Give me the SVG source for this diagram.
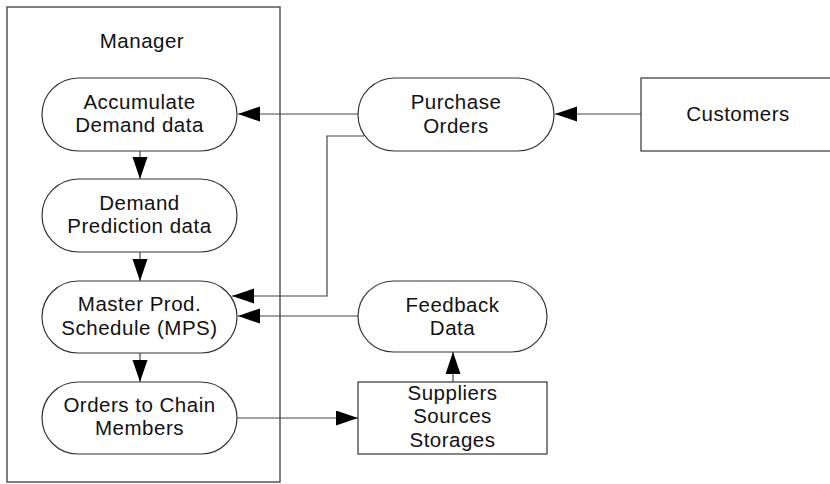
<svg xmlns="http://www.w3.org/2000/svg" width="830" height="484" viewBox="0 0 830 484">
  <style>
    .box { fill: #fff; stroke: #333; stroke-width: 1.2; }
    .frame { fill: none; stroke: #555; stroke-width: 1.5; }
    .lbl { font-family: "Liberation Sans", Arial, sans-serif; font-size: 20.5px; fill: #111; text-anchor: middle; letter-spacing: 0.5px; }
    .conn { fill: none; stroke: #444; stroke-width: 1.2; }
  </style>
  <defs>
    <marker id="arrow" markerUnits="userSpaceOnUse" markerWidth="24" markerHeight="16" refX="22" refY="7.5" orient="auto">
      <path d="M0,0 L22,7.5 L0,15 Z" fill="#000"/>
    </marker>
  </defs>
  <rect width="830" height="484" fill="#fff"/>

  <!-- Manager container -->
  <g id="manager">
    <rect class="frame" x="7" y="7" width="273" height="475"/>
    <text class="lbl" x="142" y="48">Manager</text>
  </g>

  <g id="accumulate">
    <rect class="box" x="42" y="78" width="195" height="73" rx="36.5" ry="36.5"/>
    <text class="lbl" x="139.5" y="109">Accumulate</text>
    <text class="lbl" x="139.5" y="132">Demand data</text>
  </g>

  <g id="prediction">
    <rect class="box" x="42" y="179" width="195" height="73" rx="36.5" ry="36.5"/>
    <text class="lbl" x="139.5" y="210">Demand</text>
    <text class="lbl" x="139.5" y="233">Prediction data</text>
  </g>

  <g id="mps">
    <rect class="box" x="42" y="281" width="195" height="72" rx="36" ry="36"/>
    <text class="lbl" x="139.5" y="311">Master Prod.</text>
    <text class="lbl" x="139.5" y="335">Schedule (MPS)</text>
  </g>

  <g id="orders">
    <rect class="box" x="42" y="382" width="195" height="72" rx="36" ry="36"/>
    <text class="lbl" x="139.5" y="412">Orders to Chain</text>
    <text class="lbl" x="139.5" y="435">Members</text>
  </g>

  <g id="purchase">
    <rect class="box" x="358" y="78" width="196" height="73" rx="36.5" ry="36.5"/>
    <text class="lbl" x="456" y="109">Purchase</text>
    <text class="lbl" x="456" y="133">Orders</text>
  </g>

  <g id="customers">
    <rect class="box" x="641" y="78" width="200" height="73"/>
    <text class="lbl" x="738" y="121">Customers</text>
  </g>

  <g id="feedback">
    <rect class="box" x="358" y="281" width="189" height="71" rx="35.5" ry="35.5"/>
    <text class="lbl" x="452.5" y="312">Feedback</text>
    <text class="lbl" x="452.5" y="335">Data</text>
  </g>

  <g id="suppliers">
    <rect class="box" x="358" y="382" width="189" height="72"/>
    <text class="lbl" x="452.5" y="400">Suppliers</text>
    <text class="lbl" x="452.5" y="423">Sources</text>
    <text class="lbl" x="452.5" y="447">Storages</text>
  </g>

  <!-- connectors -->
  <g id="connectors">
    <line class="conn" x1="140" y1="151" x2="140" y2="179" marker-end="url(#arrow)"/>
    <line class="conn" x1="140" y1="252" x2="140" y2="281" marker-end="url(#arrow)"/>
    <line class="conn" x1="140" y1="353" x2="140" y2="382" marker-end="url(#arrow)"/>
    <line class="conn" x1="641" y1="114" x2="555" y2="114" marker-end="url(#arrow)"/>
    <line class="conn" x1="358" y1="114" x2="238" y2="114" marker-end="url(#arrow)"/>
    <polyline class="conn" points="364,136 327,136 327,296 232,296" marker-end="url(#arrow)"/>
    <line class="conn" x1="358" y1="316" x2="238" y2="316" marker-end="url(#arrow)"/>
    <line class="conn" x1="237" y1="418" x2="358" y2="418" marker-end="url(#arrow)"/>
    <line class="conn" x1="453" y1="382" x2="453" y2="352" marker-end="url(#arrow)"/>
  </g>
</svg>
